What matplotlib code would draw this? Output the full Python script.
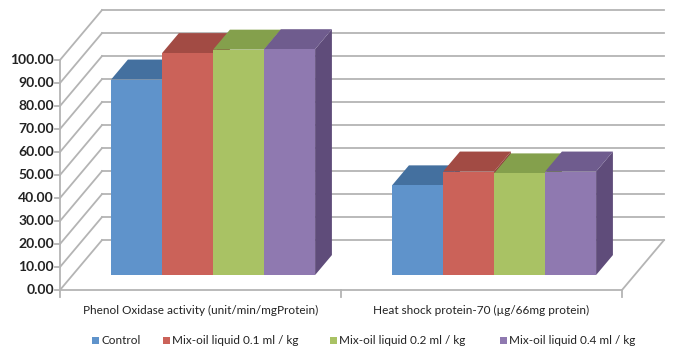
import matplotlib.pyplot as plt
from matplotlib.patches import Polygon, Rectangle

plt.rcParams['font.family'] = ['Lato', 'DejaVu Sans']

categories = ['Phenol Oxidase activity (unit/min/mgProtein)',
              'Heat shock protein-70 (\u00b5g/66mg protein)']
series = ['Control', 'Mix-oil liquid 0.1 ml / kg',
          'Mix-oil liquid 0.2 ml / kg', 'Mix-oil liquid 0.4 ml / kg']
values = [[85.0, 39.0],
          [96.5, 45.0],
          [98.0, 44.2],
          [98.2, 45.0]]
yticks = [0, 10, 20, 30, 40, 50, 60, 70, 80, 90, 100]

front_cols = ['#5F93CB', '#CB6259', '#A9C264', '#8F79B0']
top_cols = ['#44709F', '#A24B44', '#84A04C', '#6F5C8E']
side_cols = ['#3E6590', '#8E413B', '#728A40', '#5F4C7A']

# oblique projection: full depth shift in data units
DX, DY = 0.1495, 21.7
Z0, Z1 = 0.3, 0.7
BW = 0.1815

def proj(x, y, z):
    return (x + z * DX, y + z * DY)

fig = plt.figure(figsize=(6.73, 3.54), dpi=100)
ax = fig.add_axes([0, 0, 1, 1])
ax.set_xlim(-60 / 281, 613 / 281)
ax.set_ylim(-64 / 2.3, 290 / 2.3)
ax.axis('off')

grid = '#B4B4B4'
# back wall and left wall gridlines
for v in yticks:
    x0, y0 = proj(0, v, 1)
    x1, y1 = proj(2, v, 1)
    ax.plot([x0, x1], [y0, y1], color=grid, lw=1.3, zorder=1)
    ax.plot([0, x0], [v, y0], color=grid, lw=1.3, zorder=1)
# floor
fx, fy = proj(2, 0, 1)
ax.plot([0, 2, fx], [0, 0, fy], color=grid, lw=1.3, zorder=1)
# front value axis
ax.plot([0, 0], [0, 100], color=grid, lw=1.3, zorder=1)
for v in yticks:
    ax.plot([-0.018, 0], [v, v], color=grid, lw=1.3, zorder=1)
    ax.text(-0.022, v, f'{v:.2f}', ha='right', va='center', fontsize=10,
            fontweight='bold', color='#222222')
# category ticks
for c in [0, 1, 2]:
    ax.plot([c, c], [0, -3], color=grid, lw=1.3, zorder=1)
for i, cat in enumerate(categories):
    ax.text(i + 0.5, -6.3, cat, ha='center', va='top', fontsize=8.5, color='#222222')

# bars
for ci in range(len(categories)):
    start = ci + 0.137
    for si in range(len(series)):
        h = values[si][ci]
        xl = start + si * BW
        xr = xl + BW
        side = [proj(xr, 0, Z0), proj(xr, 0, Z1), proj(xr, h, Z1), proj(xr, h, Z0)]
        top = [proj(xl, h, Z0), proj(xr, h, Z0), proj(xr, h, Z1), proj(xl, h, Z1)]
        front = [proj(xl, 0, Z0), proj(xr, 0, Z0), proj(xr, h, Z0), proj(xl, h, Z0)]
        ax.add_patch(Polygon(side, closed=True, fc=side_cols[si], ec='none', zorder=3))
        ax.add_patch(Polygon(top, closed=True, fc=top_cols[si], ec='none', zorder=3))
        ax.add_patch(Polygon(front, closed=True, fc=front_cols[si], ec='none', zorder=3))

# legend
leg_x = [92, 163, 330, 500]
for si, name in enumerate(series):
    px = leg_x[si]
    fig.patches.append(Rectangle((px / 673, 1 - 344 / 354), 7 / 673, 7 / 354,
                                 transform=fig.transFigure, fc=front_cols[si],
                                 ec='none'))
    fig.text((px + 9) / 673, 1 - 341 / 354, name, ha='left', va='center',
             fontsize=8.5, color='#222222')

fig.savefig('out.png', dpi=100)
